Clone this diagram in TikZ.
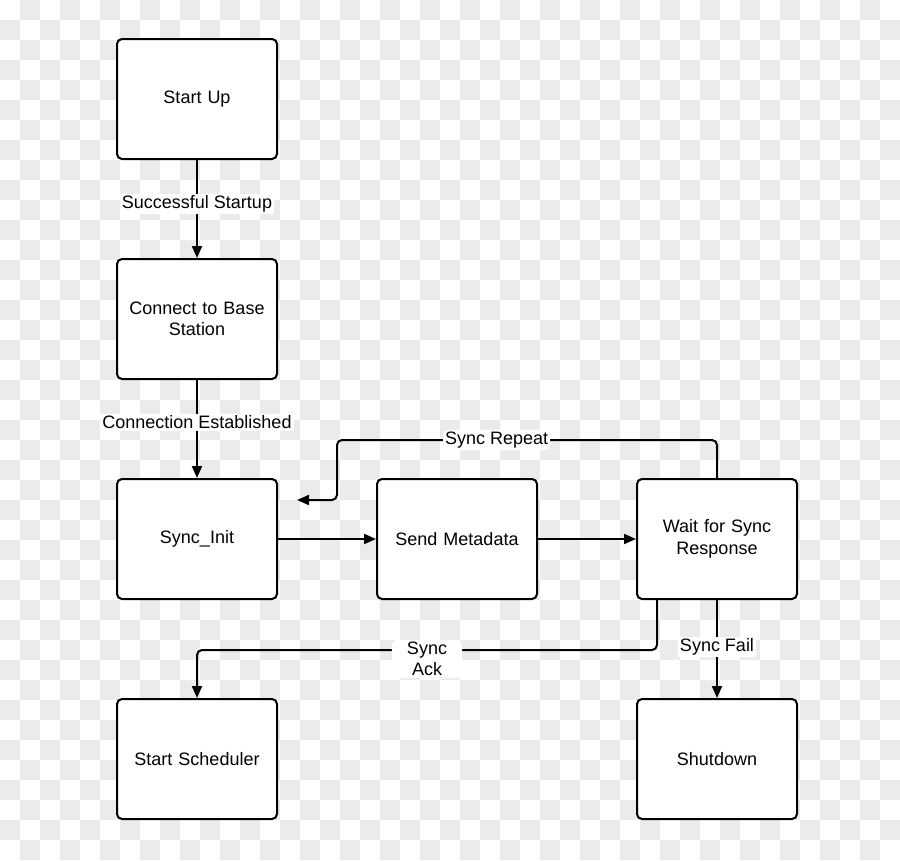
\documentclass[tikz,border=0pt]{standalone}
\usepackage{fontspec}
\setmainfont{Liberation Sans}
\usetikzlibrary{arrows.meta,calc}
\definecolor{checkgrey}{HTML}{EBEBEB}
\tikzset{
  stbox/.style={draw=black, line width=2pt, rounded corners=5pt, fill=white,
    minimum width=160pt, minimum height=120pt, inner sep=0pt,
    align=center, text width=150pt, font=\fontsize{18}{21.5}\selectfont},
  conn/.style={line width=2pt, -{Triangle[length=12pt,width=10pt]}},
  lbl/.style={fill=white, inner sep=2pt, align=center, font=\fontsize{18}{21.5}\selectfont}
}
\begin{document}
\begin{tikzpicture}[x=1pt,y=-1pt]
\useasboundingbox (0,0) rectangle (900,860);
\fill[white] (0,0) rectangle (900,860);
\foreach \i in {0,...,44}{
  \foreach \j in {0,...,42}{
    \pgfmathtruncatemacro{\s}{mod(\i+\j,2)}
    \ifnum\s=1
      \fill[checkgrey] (\i*20,\j*20) rectangle ++(20,20);
    \fi
  }
}
\node[stbox] (startup) at (197,99) {Start Up};
\node[stbox] (connect) at (197,319) {Connect to Base\\Station};
\node[stbox] (syncinit) at (197,539) {Sync\_Init};
\node[stbox] (meta) at (457,539) {Send Metadata};
\node[stbox] (wait) at (717,539) {Wait for Sync\\Response};
\node[stbox] (sched) at (197,759) {Start Scheduler};
\node[stbox] (shut) at (717,759) {Shutdown};

\draw[conn] (startup) -- node[lbl, pos=0.45]{Successful Startup} (connect);
\draw[conn] (connect) -- node[lbl, pos=0.43]{Connection Established} (syncinit);
\draw[conn] (syncinit) -- (meta);
\draw[conn] (meta) -- (wait);
\coordinate (rep) at (297,500);
\draw[conn, rounded corners=5pt] (wait.north) -- (717,440) -- node[lbl, pos=0.58]{Sync Repeat} (337,440) -- (337,500) -- (rep);
\draw[conn, rounded corners=5pt] ($(wait.south)+(-60,0)$) -- (657,650) -- node[lbl, pos=0.5, yshift=-9pt, inner xsep=15pt]{Sync\\Ack} (197,650) -- (sched.north);
\draw[conn] (wait.south) -- node[lbl, pos=0.48]{Sync Fail} (shut.north);
\end{tikzpicture}
\end{document}
